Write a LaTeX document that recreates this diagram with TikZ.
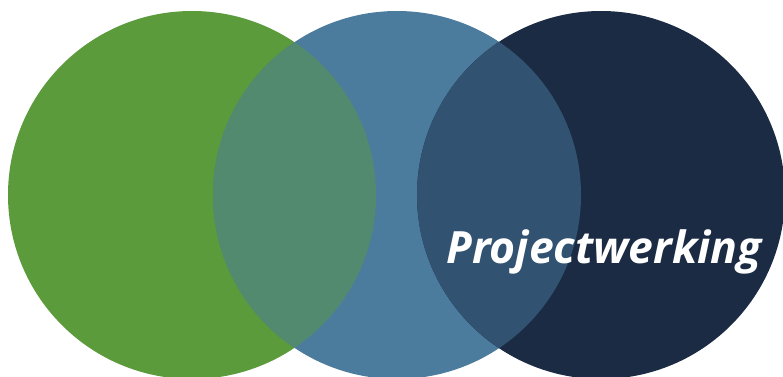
\documentclass[tikz,border=0pt]{standalone}
\usepackage{fontspec}
\setmainfont{Open Sans}
\definecolor{cgreen}{HTML}{5B9B3C}
\definecolor{cblue}{HTML}{4C7C9D}
\definecolor{cnavy}{HTML}{1B2B44}
\definecolor{cgb}{HTML}{528A70}
\definecolor{cbn}{HTML}{325271}
\begin{document}
\begin{tikzpicture}[x=1pt,y=-1pt,
  disc/.style={circle,inner sep=0pt,minimum size=368pt}]
\useasboundingbox (0,0) rectangle (783,376);
\clip (0,0) rectangle (783,376);
\node[disc,fill=cgreen] (g) at (192,195) {};
\node[disc,fill=cblue] (b) at (397,195) {};
\node[disc,fill=cnavy] (n) at (601,195) {};
\begin{scope}
  \clip (192,195) circle (184pt);
  \fill[cgb] (397,195) circle (184pt);
\end{scope}
\begin{scope}
  \clip (397,195) circle (184pt);
  \fill[cbn] (601,195) circle (184pt);
\end{scope}
\node[anchor=base,text=white,font=\bfseries\itshape\fontsize{44.5}{48}\selectfont,inner sep=0pt] (t) at (604,263) {Projectwerking};
\end{tikzpicture}
\end{document}
